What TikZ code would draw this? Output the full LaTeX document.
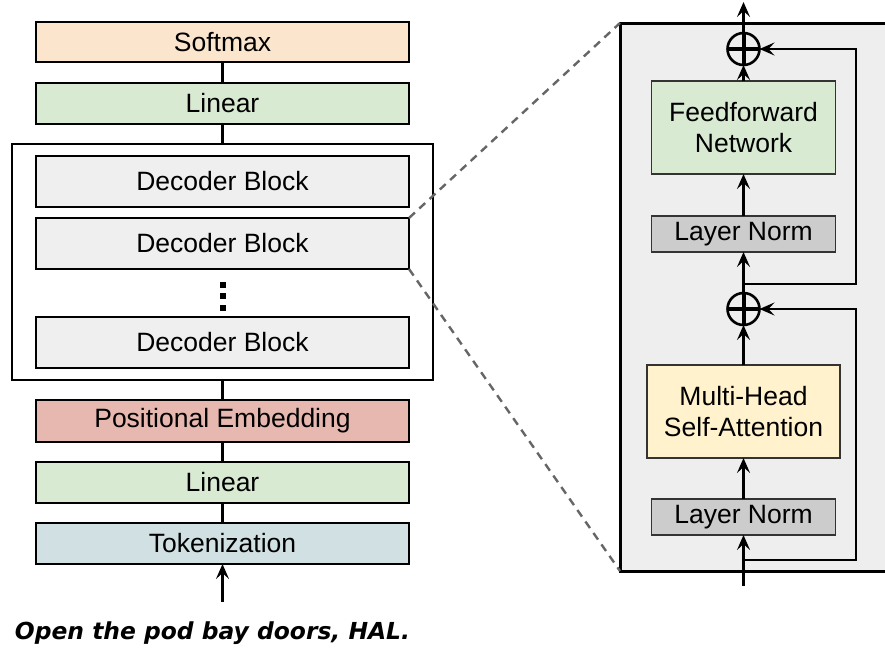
\documentclass[tikz,border=0pt]{standalone}
\usepackage{fontspec}
\setmainfont{Liberation Sans}
\newfontfamily\captionfont{DejaVu Sans}
\usetikzlibrary{arrows.meta}

\definecolor{softmaxfill}{HTML}{FCE5CD}
\definecolor{linearfill}{HTML}{D9EAD3}
\definecolor{blockfill}{HTML}{EFEFEF}
\definecolor{posfill}{HTML}{E6B8AF}
\definecolor{tokenfill}{HTML}{D0E0E3}
\definecolor{attnfill}{HTML}{FFF2CC}
\definecolor{normfill}{HTML}{CCCCCC}
\definecolor{panelfill}{HTML}{EEEEEE}
\definecolor{zoomline}{HTML}{666666}
\definecolor{innerline}{HTML}{333333}

\begin{document}
\begin{tikzpicture}[x=1pt,y=-1pt,
  every node/.style={font=\fontsize{26.5}{31.5}\selectfont, inner sep=0pt, outer sep=0pt},
  layer/.style={rectangle, draw=black, line width=2.6pt, minimum width=373pt, minimum height=#1},
  inner/.style={rectangle, draw=innerline, line width=1.4pt, align=center},
  sumnode/.style={circle, draw=black, line width=2.6pt, minimum size=32pt},
  link/.style={draw=black, line width=2.6pt},
  flow/.style={draw=black, line width=2.6pt, -{Stealth[length=15pt,width=13pt,inset=6pt]}},
  zoomed/.style={draw=zoomline, line width=2.4pt, dash pattern=on 8pt off 6pt}
]
\clip (0,0) rectangle (885,656);
\fill[white] (0,0) rectangle (885,656);

% ---------- overall model stack ----------
\node[layer=40pt, fill=softmaxfill] (softmax) at (222.5,42) {Softmax};
\node[layer=41pt, fill=linearfill] (linout) at (222.5,103.5) {Linear};
\node[rectangle, draw=black, line width=2.6pt, minimum width=421pt, minimum height=236pt] (stack) at (222.5,262) {};
\node[layer=51pt, fill=blockfill] (dec1) at (222.5,181.5) {Decoder Block};
\node[layer=51pt, fill=blockfill] (dec2) at (222.5,243.5) {Decoder Block};
\node[layer=51pt, fill=blockfill] (dec3) at (222.5,342.5) {Decoder Block};
\node[layer=42pt, fill=posfill] (posemb) at (222.5,421) {Positional Embedding};
\node[layer=41pt, fill=linearfill] (linin) at (222.5,482.5) {Linear};
\node[layer=41pt, fill=tokenfill] (token) at (222.5,543.5) {Tokenization};
\coordinate (src) at (222.5,602);
\node[font=\captionfont\fontsize{23.4}{28}\selectfont\bfseries\itshape] (prompt) at (212.5,633) {Open the pod bay doors, HAL.};

% vertical ellipsis between the blocks
\foreach \yy in {285,296,308}
  \fill[black] (219.5,\yy-3) rectangle (225.5,\yy+3);

\draw[link] (softmax) -- (linout);
\draw[link] (linout) -- (stack);
\draw[link] (stack) -- (posemb);
\draw[link] (posemb) -- (linin);
\draw[link] (linin) -- (token);
\draw[flow] (src) -- (token);

% ---------- expanded decoder block ----------
\node[rectangle, draw=black, line width=3pt, fill=panelfill, minimum width=290pt, minimum height=548pt] (panel) at (765,297) {};

\draw[zoomed] (dec2.north east) -- (panel.north west);
\draw[zoomed] (dec2.south east) -- (panel.south west);

\node[sumnode] (sum1) at (743.5,49) {};
\node[inner, fill=linearfill, minimum width=184pt, minimum height=93pt] (ffn) at (743.5,127.5) {Feedforward\\Network};
\node[inner, fill=normfill, minimum width=184pt, minimum height=36pt] (norm1) at (743.5,234) {Layer Norm};
\node[sumnode] (sum2) at (743.5,309) {};
\node[inner, fill=attnfill, minimum width=193pt, minimum height=93pt] (attn) at (743.5,411.5) {Multi-Head\\Self-Attention};
\node[inner, fill=normfill, minimum width=184pt, minimum height=36pt] (norm2) at (743.5,517) {Layer Norm};

\coordinate (out) at (743.5,2);
\coordinate (in) at (743.5,586);
\coordinate (split1) at (743.5,284);
\coordinate (split2) at (743.5,560);

% plus signs inside the summation circles
\foreach \s in {sum1,sum2} {
  \draw[line width=4pt] (\s.west) -- (\s.east);
  \draw[line width=4pt] (\s.north) -- (\s.south);
}

\draw[flow] (in) -- (norm2);
\draw[flow] (norm2) -- (attn);
\draw[flow] (attn) -- (sum2);
\draw[flow] (sum2) -- (norm1);
\draw[flow] (norm1) -- (ffn);
\draw[flow] (ffn) -- (sum1);
\draw[flow] (sum1) -- (out);

% residual connections
\draw[flow] (split2) -- (856,560) -- (856,309) -- (sum2.east);
\draw[flow] (split1) -- (856,284) -- (856,49) -- (sum1.east);
\end{tikzpicture}
\end{document}
